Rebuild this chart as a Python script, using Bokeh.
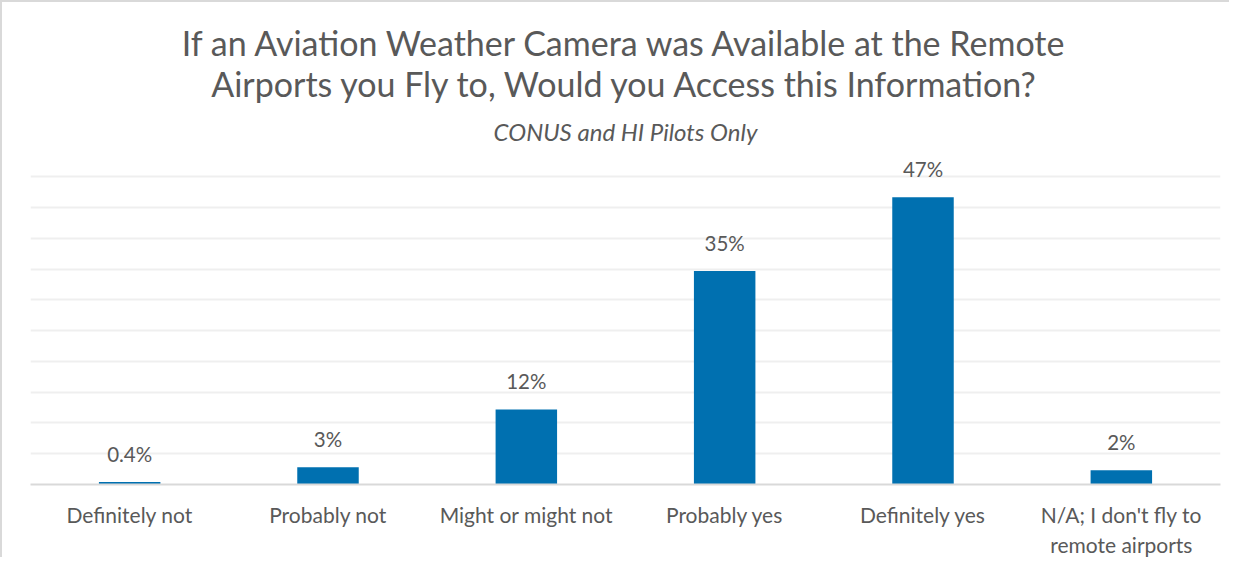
from bokeh.plotting import figure
from bokeh.models import ColumnDataSource, Title, SingleIntervalTicker
from bokeh.core.properties import value
from bokeh.embed import file_html
from bokeh.resources import INLINE

categories = ["Definitely not", "Probably not", "Might or might not",
              "Probably yes", "Definitely yes", "N/A; I don't fly to\nremote airports"]
shares = [0.4, 2.8, 12.2, 34.7, 46.7, 2.3]
labels = ["0.4%", "3%", "12%", "35%", "47%", "2%"]

title_lines = ["If an Aviation Weather Camera was Available at the Remote",
               "Airports you Fly to, Would you Access this Information?"]
subtitle = "CONUS and HI Pilots Only"

FONT = "Lato"
TXT = "#595959"

src = ColumnDataSource(dict(cat=categories, val=shares, lab=labels))

p = figure(x_range=categories, y_range=(0, 53), width=1229, height=557,
           title=None,
           output_backend="svg", toolbar_location=None,
           min_border_left=28, min_border_right=11, min_border_bottom=10, min_border_top=156)
p.styles = {"border-top": "2px solid #D9D9D9", "border-left": "2px solid #D9D9D9"}

p.vbar(x="cat", top="val", width=0.31, source=src, color="#0070B0", line_color=None)
p.text(x="cat", y="val", text="lab", source=src, text_align="center",
       text_baseline="alphabetic", y_offset=-28, text_font=value(FONT),
       text_font_size="20.5px", text_color=TXT)

p.add_layout(Title(text=subtitle, align="center", text_font=FONT, text_font_size="24px",
                   text_font_style="italic", text_color=TXT, standoff=26), "above")
p.add_layout(Title(text=title_lines[1], align="center", text_font=FONT, text_font_size="34px",
                   text_font_style="normal", text_color=TXT, standoff=-4), "above")
p.add_layout(Title(text=title_lines[0], align="center", text_font=FONT, text_font_size="34px",
                   text_font_style="normal", text_color=TXT, standoff=0), "above")

p.yaxis.visible = False
p.ygrid.ticker = SingleIntervalTicker(interval=5)
p.ygrid.grid_line_color = "#EFEFEF"
p.ygrid.grid_line_width = 2
p.xgrid.grid_line_color = None
p.outline_line_color = None

ax = p.xaxis[0]
ax.axis_line_color = "#D9D9D9"
ax.axis_line_width = 2
ax.major_tick_line_color = None
ax.minor_tick_line_color = None
ax.major_tick_out = 0
ax.major_label_standoff = 17
ax.major_label_text_font = FONT
ax.major_label_text_font_size = "21px"
ax.major_label_text_color = TXT

open("out.html", "w").write(file_html(p, INLINE))
